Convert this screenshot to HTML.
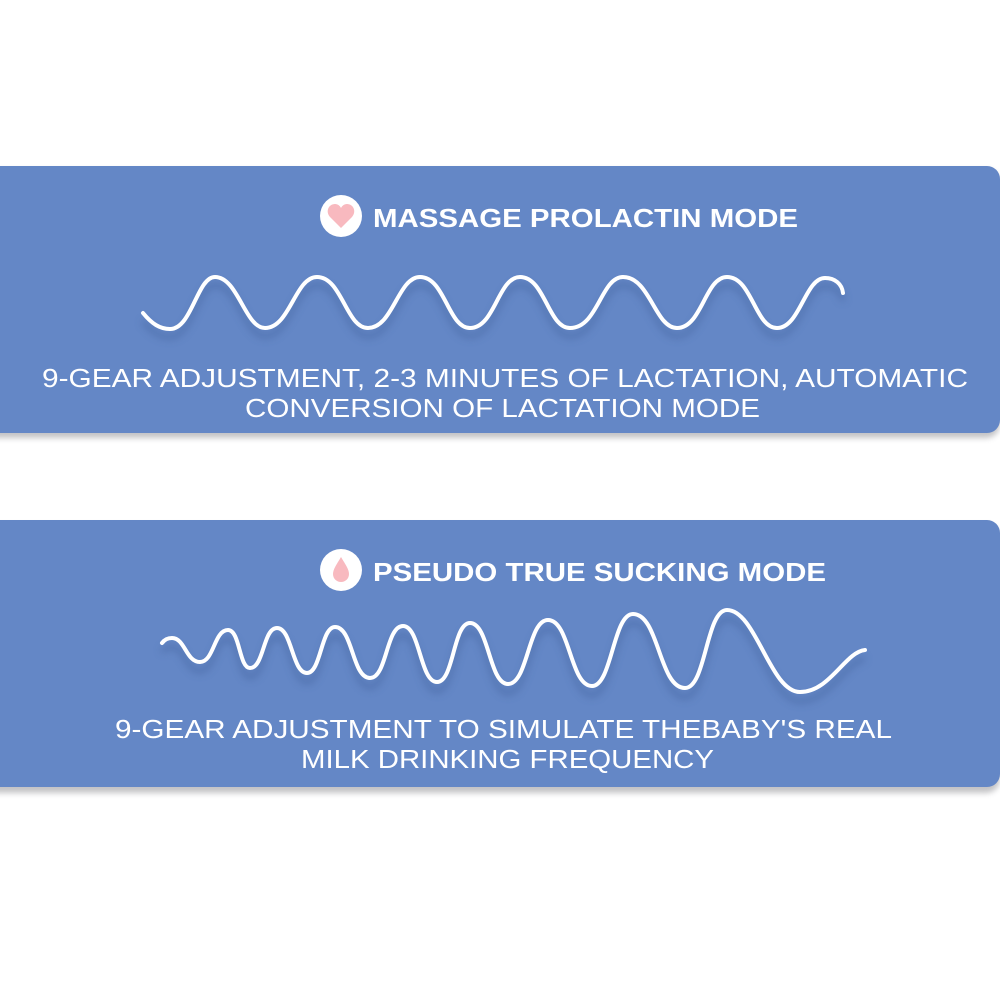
<!DOCTYPE html>
<html><head><meta charset="utf-8"><style>
html,body{margin:0;padding:0;background:#fff;}
svg{display:block}
text{font-family:"Liberation Sans",Arial,sans-serif;fill:#fff}
</style></head><body>
<svg width="1000" height="1000" viewBox="0 0 1000 1000" xmlns="http://www.w3.org/2000/svg">
<defs>
<filter id="sh" x="-5%" y="-10%" width="110%" height="130%"><feGaussianBlur stdDeviation="3"/></filter>
<filter id="ws" x="-5%" y="-30%" width="110%" height="160%"><feGaussianBlur stdDeviation="4"/></filter>
</defs>
<rect width="1000" height="1000" fill="#fff"/>
<!-- panel shadows -->
<rect x="-20" y="170" width="1020" height="268" rx="14" fill="#7a7a80" opacity="0.45" filter="url(#sh)"/>
<rect x="-20" y="525" width="1020" height="268" rx="14" fill="#7a7a80" opacity="0.45" filter="url(#sh)"/>
<!-- panels -->
<rect x="-20" y="166" width="1020" height="267" rx="13" fill="#6487c6"/>
<rect x="-20" y="520" width="1020" height="267" rx="13" fill="#6487c6"/>

<!-- panel 1 -->
<circle cx="341" cy="216" r="21" fill="#fff"/>
<path d="M341 228 L330 217 C325 211 329 204 335 204 C338 204 340 206 341 208 C342 206 344 204 347 204 C353 204 357 211 352 217 Z" fill="#f8b9bf"/>
<text x="373" y="227" font-size="26" font-weight="bold" textLength="425" lengthAdjust="spacingAndGlyphs">MASSAGE PROLACTIN MODE</text>
<path d="M143 313 C152 324 160 329 170 329 C192 329 197 277 215 277 C238 277 245 328 265 328 C290 328 295 277 317 277 C342 277 346 328 368 328 C393 328 398 277 420 277 C445 277 448 328 470 328 C495 328 498 277 520 277 C545 277 548 328 570 328 C598 328 601 277 623 277 C650 277 655 328 677 328 C702 328 705 277 727 277 C752 277 755 328 777 328 C800 328 805 278 825 278 C835 278 842 284 843 293" fill="none" stroke="#3f5f9a" stroke-width="5" opacity="0.5" filter="url(#ws)" transform="translate(0,8)"/>
<path d="M143 313 C152 324 160 329 170 329 C192 329 197 277 215 277 C238 277 245 328 265 328 C290 328 295 277 317 277 C342 277 346 328 368 328 C393 328 398 277 420 277 C445 277 448 328 470 328 C495 328 498 277 520 277 C545 277 548 328 570 328 C598 328 601 277 623 277 C650 277 655 328 677 328 C702 328 705 277 727 277 C752 277 755 328 777 328 C800 328 805 278 825 278 C835 278 842 284 843 293" fill="none" stroke="#fff" stroke-width="4" stroke-linecap="round"/>
<text x="42" y="387" font-size="26" textLength="926" lengthAdjust="spacingAndGlyphs">9-GEAR ADJUSTMENT, 2-3 MINUTES OF LACTATION, AUTOMATIC</text>
<text x="245" y="417" font-size="26" textLength="515" lengthAdjust="spacingAndGlyphs">CONVERSION OF LACTATION MODE</text>

<!-- panel 2 -->
<circle cx="341" cy="570" r="21" fill="#fff"/>
<path d="M341 557 C337 564 333 569 333 574 C333 579 337 582 341 582 C345 582 349 579 349 574 C349 569 345 564 341 557 Z" fill="#f8b9bf"/>
<text x="373" y="581" font-size="26" font-weight="bold" textLength="453" lengthAdjust="spacingAndGlyphs">PSEUDO TRUE SUCKING MODE</text>
<g id="w2">
<path d="M162 643 C165 639 168 638 172 638 C185 638 186 662 200 662 C214 662 214 630 228 630 C240 630 239 668 250 668 C264 668 263 628 277 628 C292 628 292 673 307 673 C321 673 321 627 335 627 C353 627 352 678 370 678 C387 678 386 626 403 626 C420 626 420 682 437 682 C454 682 453 623 470 623 C489 623 489 684 508 684 C528 684 528 620 548 620 C570 620 570 686 592 686 C612 686 613 614 633 614 C659 614 659 688 685 688 C706 688 706 610 727 610 C756 610 770 692 800 692 C830 692 845 652 865 650" fill="none" stroke="#3f5f9a" stroke-width="5" opacity="0.5" filter="url(#ws)" transform="translate(0,9)"/>
<path d="M162 643 C165 639 168 638 172 638 C185 638 186 662 200 662 C214 662 214 630 228 630 C240 630 239 668 250 668 C264 668 263 628 277 628 C292 628 292 673 307 673 C321 673 321 627 335 627 C353 627 352 678 370 678 C387 678 386 626 403 626 C420 626 420 682 437 682 C454 682 453 623 470 623 C489 623 489 684 508 684 C528 684 528 620 548 620 C570 620 570 686 592 686 C612 686 613 614 633 614 C659 614 659 688 685 688 C706 688 706 610 727 610 C756 610 770 692 800 692 C830 692 845 652 865 650" fill="none" stroke="#fff" stroke-width="4" stroke-linecap="round"/>
</g>
<text x="115" y="738" font-size="26" textLength="777" lengthAdjust="spacingAndGlyphs">9-GEAR ADJUSTMENT TO SIMULATE THEBABY'S REAL</text>
<text x="301" y="768" font-size="26" textLength="413" lengthAdjust="spacingAndGlyphs">MILK DRINKING FREQUENCY</text>
</svg>
</body></html>
